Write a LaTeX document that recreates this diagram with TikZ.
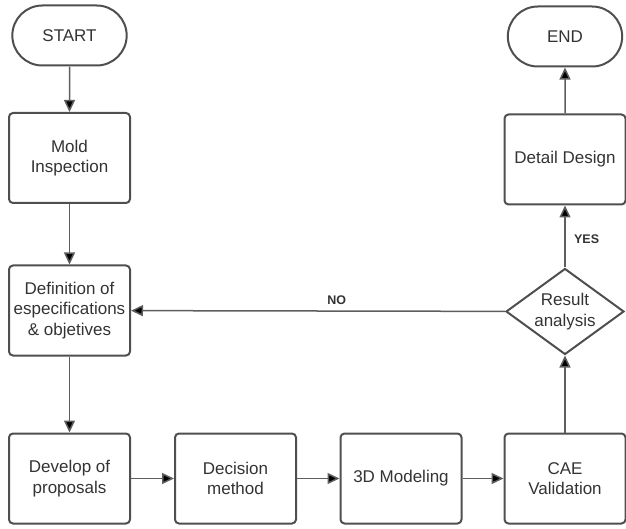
\documentclass[tikz,border=0pt]{standalone}
\usepackage{fontspec}
\setmainfont{Liberation Sans}
\usetikzlibrary{arrows.meta, positioning, shapes.geometric, shapes.misc}

\definecolor{boxgray}{HTML}{4F4F4F}
\definecolor{arrowgray}{HTML}{5E5E5E}
\definecolor{textgray}{HTML}{333333}

\begin{document}
\begin{tikzpicture}[x=1pt, y=-1pt, auto,
	every node/.style={text=textgray, font=\fontsize{17}{20.5}\selectfont, align=center},
	terminal/.style={rounded rectangle, draw=boxgray, line width=2pt, minimum width=121pt, minimum height=60pt},
	process/.style={rectangle, rounded corners=4pt, draw=boxgray, line width=2pt, minimum width=121pt, minimum height=90pt},
	decision/.style={diamond, draw=boxgray, line width=2pt, inner sep=-10pt, aspect=1.37, minimum width=118pt, minimum height=86pt},
	flow/.style={draw=arrowgray, line width=1.5pt, -{Triangle[length=12pt, width=11pt]}},
	answer/.style={font=\fontsize{12.5}{14}\bfseries}]
	\useasboundingbox (0,0) rectangle (626,529);

	\node [terminal]	(start)	at (69.5,35.5)		{START};
	\node [process]		(mold)	[below=45.5pt of start]	{Mold\\Inspection};
	\node [process]		(spec)	[below=60.5pt of mold]	{Definition of\\especifications\\\& objetives};
	\node [process]		(prop)	[below=76pt of spec]	{Develop of\\proposals};
	\node [process]		(dec)	[right=43pt of prop]	{Decision\\method};
	\node [process]		(model)	[right=42.5pt of dec]	{3D Modeling};
	\node [process]		(cae)	[right=41pt of model]	{CAE\\Validation};
	\node [decision]	(res)	[above=77pt of cae]	{Result\\analysis};
	\node [process]		(det)	[above=62pt of res]	{Detail Design};
	\node [terminal]	(end)	[above=46pt of det]	{END};

	\path[flow] (start) edge (mold);
	\path[flow] (mold) edge (spec);
	\path[flow] (spec) edge (prop);
	\path[flow] (prop) edge (dec);
	\path[flow] (dec) edge (model);
	\path[flow] (model) edge (cae);
	\path[flow] (cae) edge (res);
	\path[flow] (res) edge node[answer, above=2pt, pos=0.45] {NO} (spec);
	\path[flow] (res) edge node[answer, right=5pt, pos=0.45] {YES} (det);
	\path[flow] (det) edge (end);
\end{tikzpicture}
\end{document}
